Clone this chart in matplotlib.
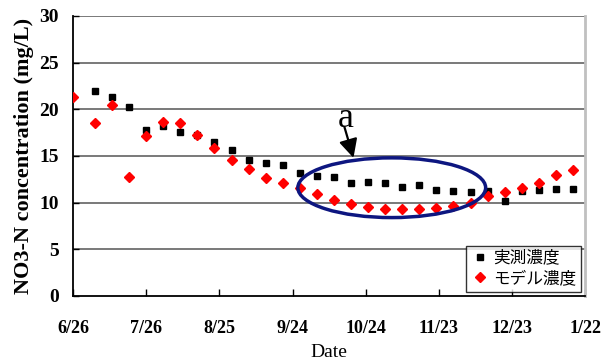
import numpy as np
import matplotlib
matplotlib.use('Agg')
import matplotlib.pyplot as plt
from matplotlib.patches import Ellipse

# dias desde 6/26 (muestreo semanal)
tick_days = [0, 30, 60, 90, 120, 150, 180, 210]
tick_labels = ['6/26', '7/26', '8/25', '9/24', '10/24', '11/23', '12/23', '1/22']

obs_days = [9 + 7 * k for k in range(29)]
obs_vals = [22.0, 21.3, 20.3, 17.8, 18.2, 17.6, 17.3, 16.5, 15.6, 14.6,
            14.3, 14.0, 13.2, 12.9, 12.8, 12.1, 12.2, 12.1, 11.7, 11.9,
            11.4, 11.3, 11.1, 11.3, 10.2, 11.3, 11.4, 11.5, 11.5]

mod_days = [0] + [9 + 7 * k for k in range(29)]
mod_vals = [21.3, 18.5, 20.5, 12.75, 17.1, 18.6, 18.5, 17.3, 15.9, 14.6,
            13.6, 12.6, 12.1, 11.6, 10.9, 10.3, 9.9, 9.5, 9.3, 9.3,
            9.3, 9.4, 9.6, 10.0, 10.7, 11.1, 11.6, 12.1, 13.0, 13.5]

serif = ['Liberation Serif', 'Noto Sans CJK JP', 'DejaVu Serif']
plt.rcParams['font.family'] = serif

fig = plt.figure(figsize=(6.02, 3.63), dpi=100)
ax = fig.add_axes([0.1213, 0.1846, 0.8507, 0.7714])

# lineas horizontales
for v in range(5, 31, 5):
    ax.axhline(v, color='#6e6e6e', lw=1.3, zorder=1)

ax.plot(obs_days, obs_vals, 's', color='black', ms=5, ls='none',
        label='実測濃度', zorder=3)
ax.plot(mod_days, mod_vals, 'D', color='red', ms=5.5, ls='none',
        label='モデル濃度', zorder=4)

ax.set_xlim(0, 210)
ax.set_ylim(0, 30)
ax.set_xticks(tick_days)
ax.set_xticklabels(tick_labels)
ax.set_yticks(range(0, 31, 5))

for lab in ax.get_xticklabels():
    lab.set_fontweight('bold')
    lab.set_fontsize(13)
for lab in ax.get_yticklabels():
    lab.set_fontweight('bold')
    lab.set_fontsize(14)

ax.tick_params(axis='x', direction='in', length=5, width=1, pad=17, color='black')
ax.tick_params(axis='y', direction='in', length=4, width=1, pad=10)

ax.spines['top'].set_visible(False)
ax.spines['right'].set_color('#c0c0c0')
ax.spines['right'].set_linewidth(2)
ax.spines['left'].set_linewidth(1.3)
ax.spines['bottom'].set_linewidth(1.3)

ax.set_ylabel('NO3-N concentration (mg/L)', fontsize=16, fontweight='bold', labelpad=4)
ax.set_xlabel('Date', fontsize=14, labelpad=5)

# elipse y flecha "a"
ell = Ellipse((130.7, 11.6), 77, 6.4, fill=False, edgecolor='#0d1680', lw=2.5, zorder=5)
ax.add_patch(ell)
ax.annotate('', xy=(115.0, 14.8), xytext=(111.3, 18.1),
            arrowprops=dict(arrowstyle='-|>', color='black', lw=1.6,
                            mutation_scale=28, shrinkA=0, shrinkB=0), zorder=6)
ax.text(112.0, 17.3, 'a', fontsize=26, ha='center', va='bottom')

leg = ax.legend(loc='lower right', bbox_to_anchor=(1.0, 0.0), fontsize=12,
                frameon=True, fancybox=False, edgecolor='black',
                handletextpad=0.3, borderpad=0.3, labelspacing=0.25,
                handlelength=1.0, borderaxespad=0.25)
leg.get_frame().set_linewidth(1.0)

fig.savefig('out.png', dpi=100)
